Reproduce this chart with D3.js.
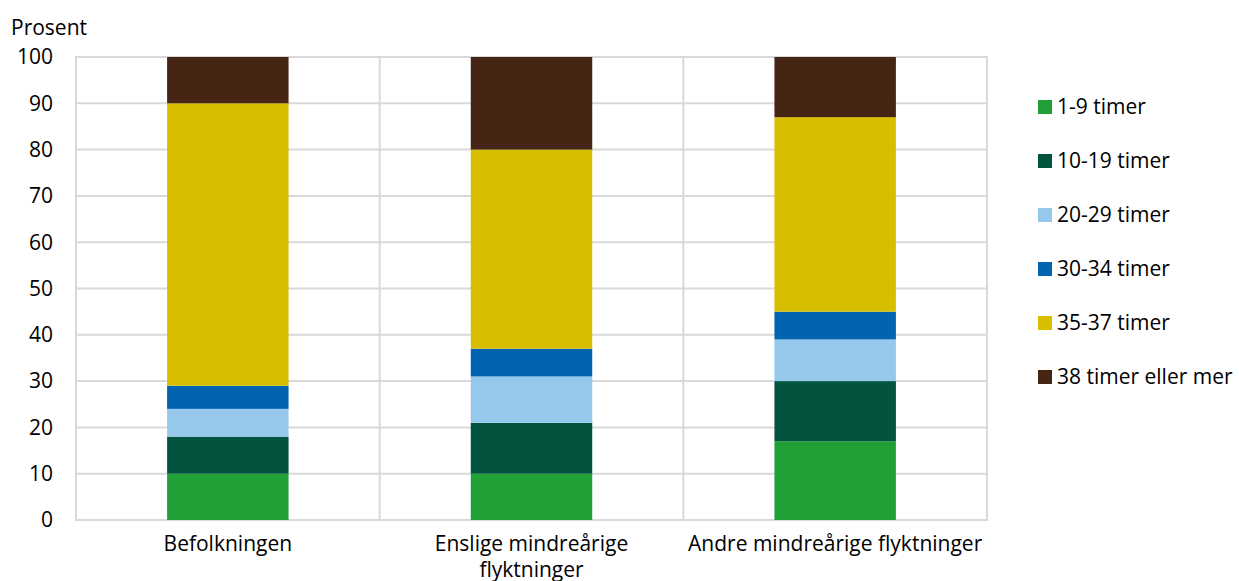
<!DOCTYPE html>
<html><head><meta charset="utf-8">
<script src="https://cdn.jsdelivr.net/npm/d3@7"></script>
<style>body{margin:0;background:#fff;}svg{display:block;font-family:"Open Sans",sans-serif;}</style>
</head><body>
<svg id="c" width="1239" height="581"></svg>
<script>
const categories = ["Befolkningen", "Enslige mindreårige flyktninger", "Andre mindreårige flyktninger"];
const categoryLines = [["Befolkningen"], ["Enslige mindreårige", "flyktninger"], ["Andre mindreårige flyktninger"]];
const seriesNames = ["1-9 timer", "10-19 timer", "20-29 timer", "30-34 timer", "35-37 timer", "38 timer eller mer"];
const s1_9 = [10, 10, 17];
const s10_19 = [8, 11, 13];
const s20_29 = [6, 10, 9];
const s30_34 = [5, 6, 6];
const s35_37 = [61, 43, 42];
const s38 = [10, 20, 13];
const colors = ["#21a038", "#03543f", "#96c8ec", "#0064b0", "#d7bf00", "#472514"];
const yTicks = [0, 10, 20, 30, 40, 50, 60, 70, 80, 90, 100];

const seriesValues = [s1_9, s10_19, s20_29, s30_34, s35_37, s38];
const rows = categories.map((c, i) => {
  const r = {cat: c};
  seriesNames.forEach((s, j) => r[s] = seriesValues[j][i]);
  return r;
});
const stacked = d3.stack().keys(seriesNames)(rows);

const svg = d3.select("#c");
const FS = 21;
const m = {left: 76, right: 987, top: 57, bottom: 520};
const x = d3.scaleBand().domain(categories).range([m.left, m.right]).paddingInner(0.6).paddingOuter(0.3);
const xg = d3.scaleBand().domain(categories).range([m.left, m.right]);
const y = d3.scaleLinear().domain([0, 100]).range([m.bottom, m.top]);
const grid = "#d9d9d9";

svg.append("g").selectAll("line").data(yTicks).join("line")
  .attr("x1", m.left).attr("x2", m.right)
  .attr("y1", d => y(d)).attr("y2", d => y(d))
  .attr("stroke", grid).attr("stroke-width", 2);
const vx = categories.map(c => xg(c)).concat([m.right]);
svg.append("g").selectAll("line").data(vx).join("line")
  .attr("x1", d => d).attr("x2", d => d)
  .attr("y1", m.top - 1).attr("y2", m.bottom + 1)
  .attr("stroke", grid).attr("stroke-width", 2);

svg.append("g").selectAll("g").data(stacked).join("g")
  .attr("fill", (d, i) => colors[i])
  .selectAll("rect").data(d => d).join("rect")
  .attr("x", d => x(d.data.cat))
  .attr("width", x.bandwidth())
  .attr("y", d => y(d[1]))
  .attr("height", d => y(d[0]) - y(d[1]));

svg.append("g").selectAll("text").data(yTicks).join("text")
  .attr("x", 53).attr("y", d => y(d)).attr("dy", "0.35em")
  .attr("text-anchor", "end").attr("font-size", FS).attr("fill", "#000")
  .text(d => d);
svg.append("text").attr("x", 11).attr("y", 35).attr("font-size", FS).text("Prosent");

const xl = svg.append("g").selectAll("text").data(categories).join("text")
  .attr("x", d => xg(d) + xg.bandwidth() / 2).attr("y", 551)
  .attr("text-anchor", "middle").attr("font-size", FS);
xl.each(function(d, i) {
  d3.select(this).selectAll("tspan").data(categoryLines[i]).join("tspan")
    .attr("x", xg(d) + xg.bandwidth() / 2).attr("dy", (t, k) => k === 0 ? 0 : 26).text(t => t);
});

const lg = svg.append("g").selectAll("g").data(seriesNames).join("g")
  .attr("transform", (d, i) => `translate(1038, ${107 + i * 54})`);
lg.append("rect").attr("x", 0).attr("y", -7).attr("width", 14).attr("height", 14).attr("fill", (d, i) => colors[i]);
lg.append("text").attr("x", 19).attr("y", 0).attr("dy", "0.35em").attr("font-size", FS).text(d => d);
</script>
</body></html>
